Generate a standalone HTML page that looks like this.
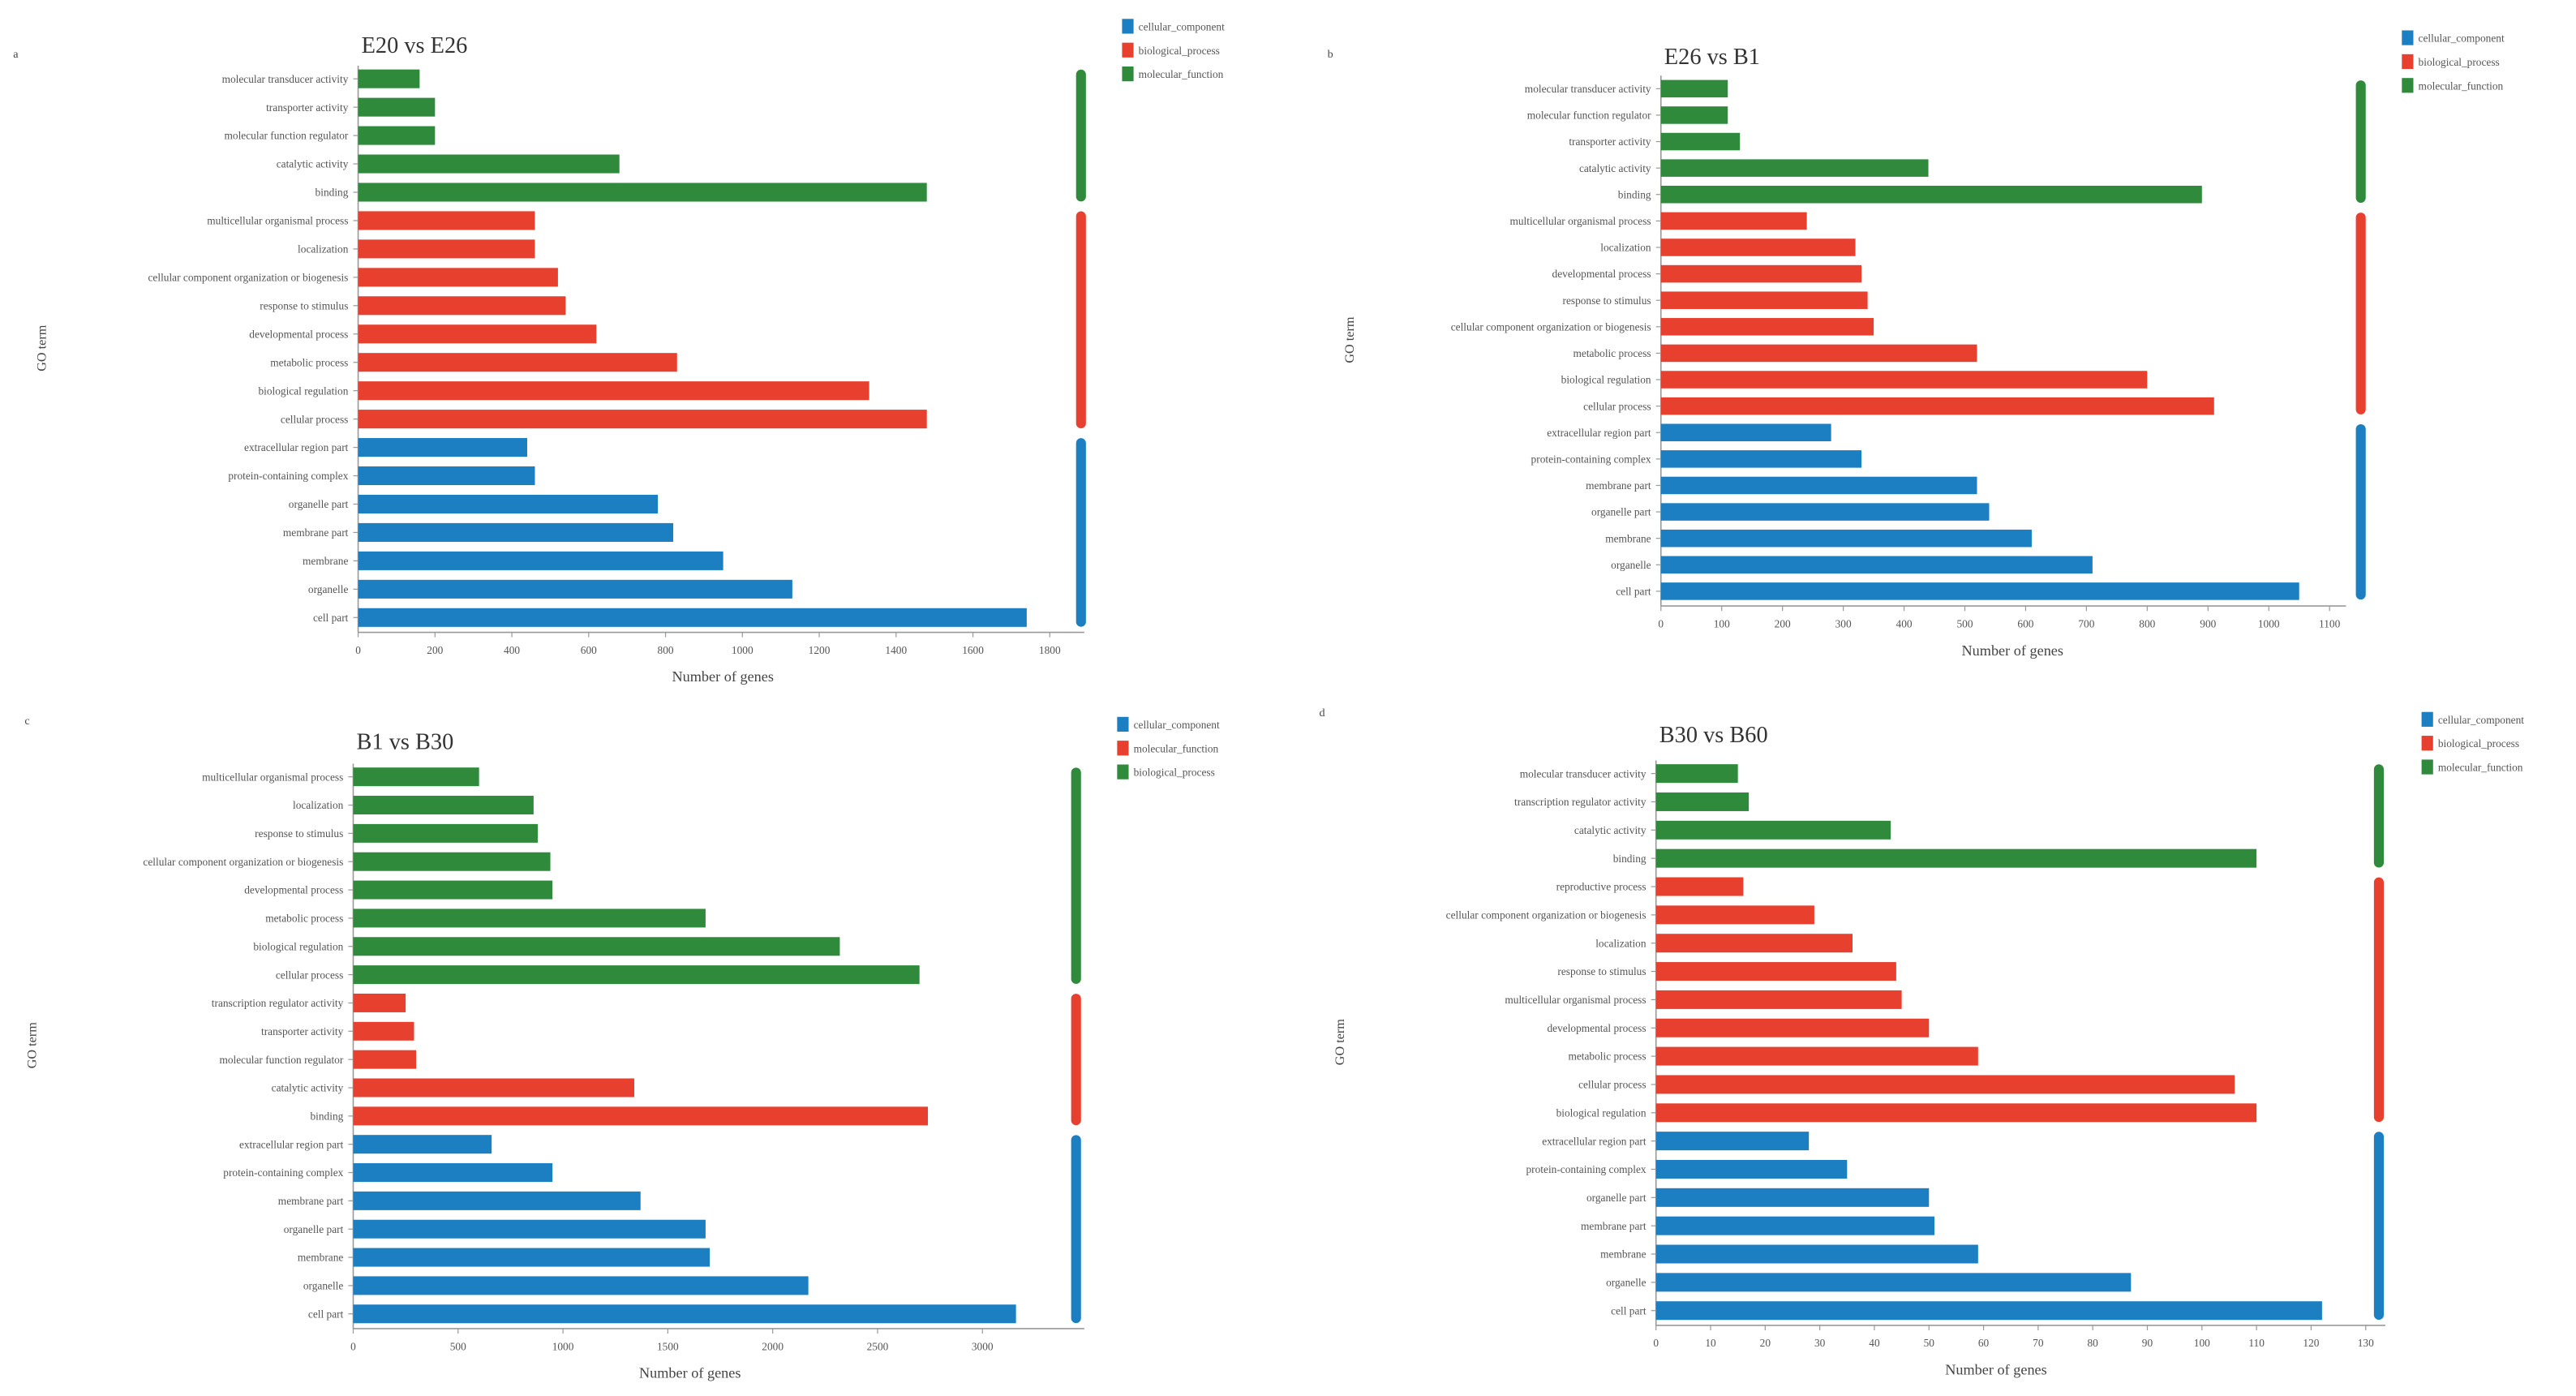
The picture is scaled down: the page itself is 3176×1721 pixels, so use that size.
<!DOCTYPE html>
<html><head><meta charset="utf-8"><style>
html,body{margin:0;padding:0;background:#fff;}
svg{display:block;font-family:"Liberation Serif",serif;}
</style></head><body>
<svg id="fig" width="3176" height="1721" viewBox="0 0 1568 850" preserveAspectRatio="none" xmlns="http://www.w3.org/2000/svg"></svg>
<script>
// ---- Panel A: E20 vs E26 ----
const catsA = ["molecular transducer activity","transporter activity","molecular function regulator","catalytic activity","binding","multicellular organismal process","localization","cellular component organization or biogenesis","response to stimulus","developmental process","metabolic process","biological regulation","cellular process","extracellular region part","protein-containing complex","organelle part","membrane part","membrane","organelle","cell part"];
const valsA = [160,200,200,680,1480,460,460,520,540,620,830,1330,1480,440,460,780,820,950,1130,1740];
const groupA = ["g","g","g","g","g","r","r","r","r","r","r","r","r","b","b","b","b","b","b","b"];
const ticksA = [0,200,400,600,800,1000,1200,1400,1600,1800];
const legendA = ["cellular_component","biological_process","molecular_function"];
const legendColA = ["b","r","g"];
// ---- Panel B: E26 vs B1 ----
const catsB = ["molecular transducer activity","molecular function regulator","transporter activity","catalytic activity","binding","multicellular organismal process","localization","developmental process","response to stimulus","cellular component organization or biogenesis","metabolic process","biological regulation","cellular process","extracellular region part","protein-containing complex","membrane part","organelle part","membrane","organelle","cell part"];
const valsB = [110,110,130,440,890,240,320,330,340,350,520,800,910,280,330,520,540,610,710,1050];
const groupB = ["g","g","g","g","g","r","r","r","r","r","r","r","r","b","b","b","b","b","b","b"];
const ticksB = [0,100,200,300,400,500,600,700,800,900,1000,1100];
const legendB = ["cellular_component","biological_process","molecular_function"];
const legendColB = ["b","r","g"];
// ---- Panel C: B1 vs B30 ----
const catsC = ["multicellular organismal process","localization","response to stimulus","cellular component organization or biogenesis","developmental process","metabolic process","biological regulation","cellular process","transcription regulator activity","transporter activity","molecular function regulator","catalytic activity","binding","extracellular region part","protein-containing complex","membrane part","organelle part","membrane","organelle","cell part"];
const valsC = [600,860,880,940,950,1680,2320,2700,250,290,300,1340,2740,660,950,1370,1680,1700,2170,3160];
const groupC = ["g","g","g","g","g","g","g","g","r","r","r","r","r","b","b","b","b","b","b","b"];
const ticksC = [0,500,1000,1500,2000,2500,3000];
const legendC = ["cellular_component","molecular_function","biological_process"];
const legendColC = ["b","r","g"];
// ---- Panel D: B30 vs B60 ----
const catsD = ["molecular transducer activity","transcription regulator activity","catalytic activity","binding","reproductive process","cellular component organization or biogenesis","localization","response to stimulus","multicellular organismal process","developmental process","metabolic process","cellular process","biological regulation","extracellular region part","protein-containing complex","organelle part","membrane part","membrane","organelle","cell part"];
const valsD = [15,17,43,110,16,29,36,44,45,50,59,106,110,28,35,50,51,59,87,122];
const groupD = ["g","g","g","g","r","r","r","r","r","r","r","r","r","b","b","b","b","b","b","b"];
const ticksD = [0,10,20,30,40,50,60,70,80,90,100,110,120,130];
const legendD = ["cellular_component","biological_process","molecular_function"];
const legendColD = ["b","r","g"];

const COL = {b:"#1b7fc2", r:"#e8402f", g:"#2f8a3c"};
const svg = document.getElementById('fig');
const NS = "http://www.w3.org/2000/svg";
function mk(tag, attrs, parent){const e=document.createElementNS(NS,tag);for(const k in attrs)e.setAttribute(k,attrs[k]);(parent||svg).appendChild(e);return e;}

function panel(o){
  const g = mk('g',{});
  
  
  const xs = v => o.x0 + (v - 0) / o.tmax * (o.xTmaxPx - o.x0);
  const n = o.cats.length;
  const ys = i => o.yTop + i * (o.yBot - o.yTop) / (n - 1);
  const lt = mk('text',{x:o.lx,y:o.ly,'font-size':7,fill:'#444'},g); lt.textContent=o.letter;
   
  const tt = mk('text',{x:o.x0+2,y:o.titleY,'font-size':14,fill:'#333'},g); tt.textContent=o.title;
   
  const ax = mk('line',{x1:o.x0,y1:o.yTop-8,x2:o.x0,y2:o.yBot+9,stroke:'#999','stroke-width':0.8},g);
   
  const bx = mk('line',{x1:o.x0,y1:o.yBot+9,x2:o.axEnd,y2:o.yBot+9,stroke:'#999','stroke-width':0.8},g);
   
  const bh = (o.yBot - o.yTop)/(n-1)*0.66;
  for(let i=0;i<n;i++){
    const y = ys(i);
    const bar = mk('rect',{x:o.x0,y:y-bh/2,width:Math.max(0,xs(o.vals[i])-o.x0),height:bh,fill:COL[o.grp[i]]},g);
    
    
    const lb = mk('text',{x:o.x0-6,y:y+2.3,'font-size':6.6,'text-anchor':'end',fill:'#555'},g);
    lb.textContent = o.cats[i];
     
    mk('line',{x1:o.x0-3,y1:y,x2:o.x0,y2:y,stroke:'#999','stroke-width':0.6},g);
  }
  for(const t of o.ticks){
    const x = xs(t);
    mk('line',{x1:x,y1:o.yBot+9,x2:x,y2:o.yBot+12,stroke:'#999','stroke-width':0.6},g);
    const tl = mk('text',{x:x,y:o.yBot+22,'font-size':6.6,'text-anchor':'middle',fill:'#555'},g);
    tl.textContent = t;
     
  }
  const xt = mk('text',{x:o.xTitleX,y:o.yBot+39,'font-size':9,'text-anchor':'middle',fill:'#444'},g);
  xt.textContent='Number of genes';
   
  const yt = mk('text',{x:0,y:0,'font-size':8,'text-anchor':'middle',fill:'#444',transform:`translate(${o.yTitleX},${(o.yTop+o.yBot)/2}) rotate(-90)`},g);
  yt.textContent='GO term';
   
  const step=(o.yBot-o.yTop)/(n-1);
  let s=0;
  for(let i=1;i<=n;i++){
    if(i===n || o.grp[i]!==o.grp[s]){
      const sb = mk('rect',{x:o.sideX,y:ys(s)-step/2+3,width:6,height:ys(i-1)-ys(s)+step-6,rx:3,fill:COL[o.grp[s]]},g);
       
      s=i;
    }
  }
  o.legend.forEach((name,k)=>{
    const ly = o.legY + k*14.5;
    const sw = mk('rect',{x:o.legX,y:ly-4.5,width:7,height:9,fill:COL[o.legCol[k]]},g);
     
    const lt2 = mk('text',{x:o.legX+10,y:ly+2.5,'font-size':6.6,fill:'#555'},g);
    lt2.textContent=name;
     
  });
}

panel({name:'chart-e20-vs-e26',letter:'a',lx:8,ly:35,title:'E20 vs E26',titleY:32,x0:218,tmax:1800,xTmaxPx:639,axEnd:660,yTop:48,yBot:376,cats:catsA,vals:valsA,grp:groupA,ticks:ticksA,xTitleX:440,yTitleX:28,sideX:655,legX:683,legY:16,legend:legendA,legCol:legendColA});
panel({name:'chart-e26-vs-b1',letter:'b',lx:808,ly:35,title:'E26 vs B1',titleY:39,x0:1011,tmax:1100,xTmaxPx:1418,axEnd:1428,yTop:54,yBot:360,cats:catsB,vals:valsB,grp:groupB,ticks:ticksB,xTitleX:1225,yTitleX:824,sideX:1434,legX:1462,legY:23,legend:legendB,legCol:legendColB});
panel({name:'chart-b1-vs-b30',letter:'c',lx:15,ly:441,title:'B1 vs B30',titleY:456,x0:215,tmax:3000,xTmaxPx:598,axEnd:660,yTop:473,yBot:800,cats:catsC,vals:valsC,grp:groupC,ticks:ticksC,xTitleX:420,yTitleX:22,sideX:652,legX:680,legY:441,legend:legendC,legCol:legendColC});
panel({name:'chart-b30-vs-b60',letter:'d',lx:803,ly:436,title:'B30 vs B60',titleY:452,x0:1008,tmax:130,xTmaxPx:1440,axEnd:1452,yTop:471,yBot:798,cats:catsD,vals:valsD,grp:groupD,ticks:ticksD,xTitleX:1215,yTitleX:818,sideX:1445,legX:1474,legY:438,legend:legendD,legCol:legendColD});
</script>
</body></html>
